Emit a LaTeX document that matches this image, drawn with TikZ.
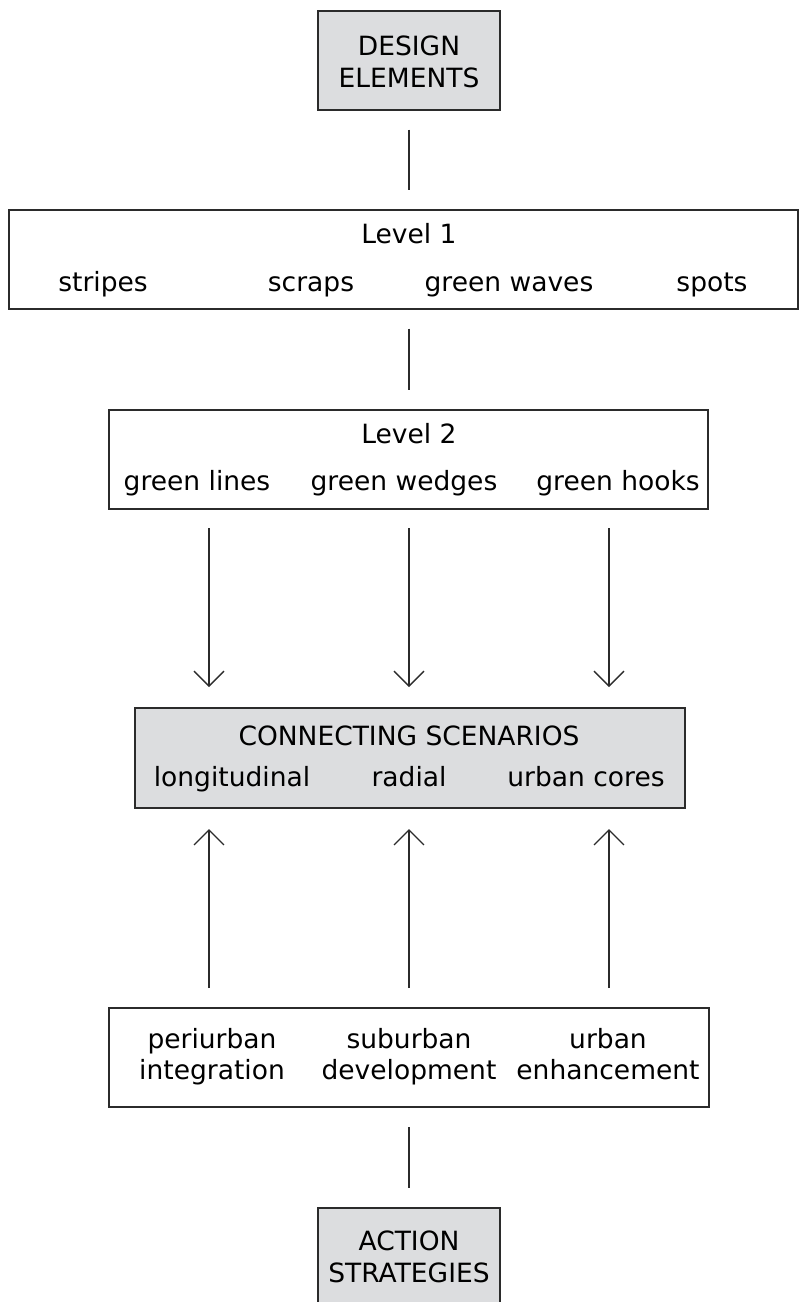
\documentclass[tikz,border=0pt]{standalone}
\usepackage{fontspec}
\setmainfont{DejaVu Sans}
\usetikzlibrary{arrows.meta}
\definecolor{boxgrey}{HTML}{DCDDDF}
\definecolor{edge}{HTML}{2B2B2B}
\begin{document}
\begin{tikzpicture}[x=1pt,y=-1pt,
  box/.style={draw=edge, line width=2pt, minimum width=#1, inner sep=0pt, minimum height=99pt},
  greybox/.style={box=#1, fill=boxgrey},
  txt/.style={font=\fontsize{26.5}{31.5}\selectfont, inner sep=0pt, anchor=base, text=black},
  link/.style={draw=edge, line width=1.5pt, shorten <=19pt, shorten >=19pt},
  arr/.style={link, shorten >=20pt, -{Straight Barb[length=15pt, width=30pt, line width=1.3pt]}}]
\useasboundingbox (0,0) rectangle (799,1302);
\begin{scope}
\clip (0,0) rectangle (799,1302);
% boxes
\node[greybox=182pt] (top) at (409,60) {};
\node[box=789pt] (l1) at (403.5,259) {};
\node[box=599pt] (l2) at (408.5,459) {};
\node[greybox=550pt, minimum height=100pt] (cs) at (410,758) {};
\node[box=600pt] (st) at (409,1057.5) {};
\node[greybox=182pt, minimum height=100pt] (as) at (409,1258) {};
\end{scope}
% texts
\node[txt] (tt1) at (409,55) {DESIGN};
\node[txt] (tt2) at (409,87) {ELEMENTS};
\node[txt] (l1t) at (409,243) {Level 1};
\node[txt] (s1) at (103,291) {stripes};
\node[txt] (s2) at (311,291) {scraps};
\node[txt] (s3) at (509,291) {green waves};
\node[txt] (s4) at (712,291) {spots};
\node[txt] (l2t) at (409,443) {Level 2};
\node[txt] (g1) at (197,490) {green lines};
\node[txt] (g2) at (404,490) {green wedges};
\node[txt] (g3) at (618,490) {green hooks};
\node[txt] (cst) at (409,745) {CONNECTING SCENARIOS};
\node[txt] (c1) at (232,786) {longitudinal};
\node[txt] (c2) at (409,786) {radial};
\node[txt] (c3) at (586,786) {urban cores};
\node[txt] (p1a) at (212,1048) {periurban};
\node[txt] (p1b) at (212,1079) {integration};
\node[txt] (p2a) at (409,1048) {suburban};
\node[txt] (p2b) at (409,1079) {development};
\node[txt] (p3a) at (608,1048) {urban};
\node[txt] (p3b) at (608,1079) {enhancement};
\node[txt] (as1) at (409,1250) {ACTION};
\node[txt] (as2) at (409,1282) {STRATEGIES};
% connectors
\draw[link] (top.south) -- (top.south |- l1.north);
\draw[link] (l1.south -| top.south) -- (l2.north -| top.south);
\coordinate (a1) at (209,509);
\coordinate (a2) at (409,509);
\coordinate (a3) at (609,509);
\draw[arr] (a1) -- (a1 |- cs.north);
\draw[arr] (a2) -- (a2 |- cs.north);
\draw[arr] (a3) -- (a3 |- cs.north);
\draw[arr] (a1 |- st.north) -- (a1 |- cs.south);
\draw[arr] (a2 |- st.north) -- (a2 |- cs.south);
\draw[arr] (a3 |- st.north) -- (a3 |- cs.south);
\draw[link] (st.south -| top.south) -- (as.north);
\end{tikzpicture}
\end{document}
